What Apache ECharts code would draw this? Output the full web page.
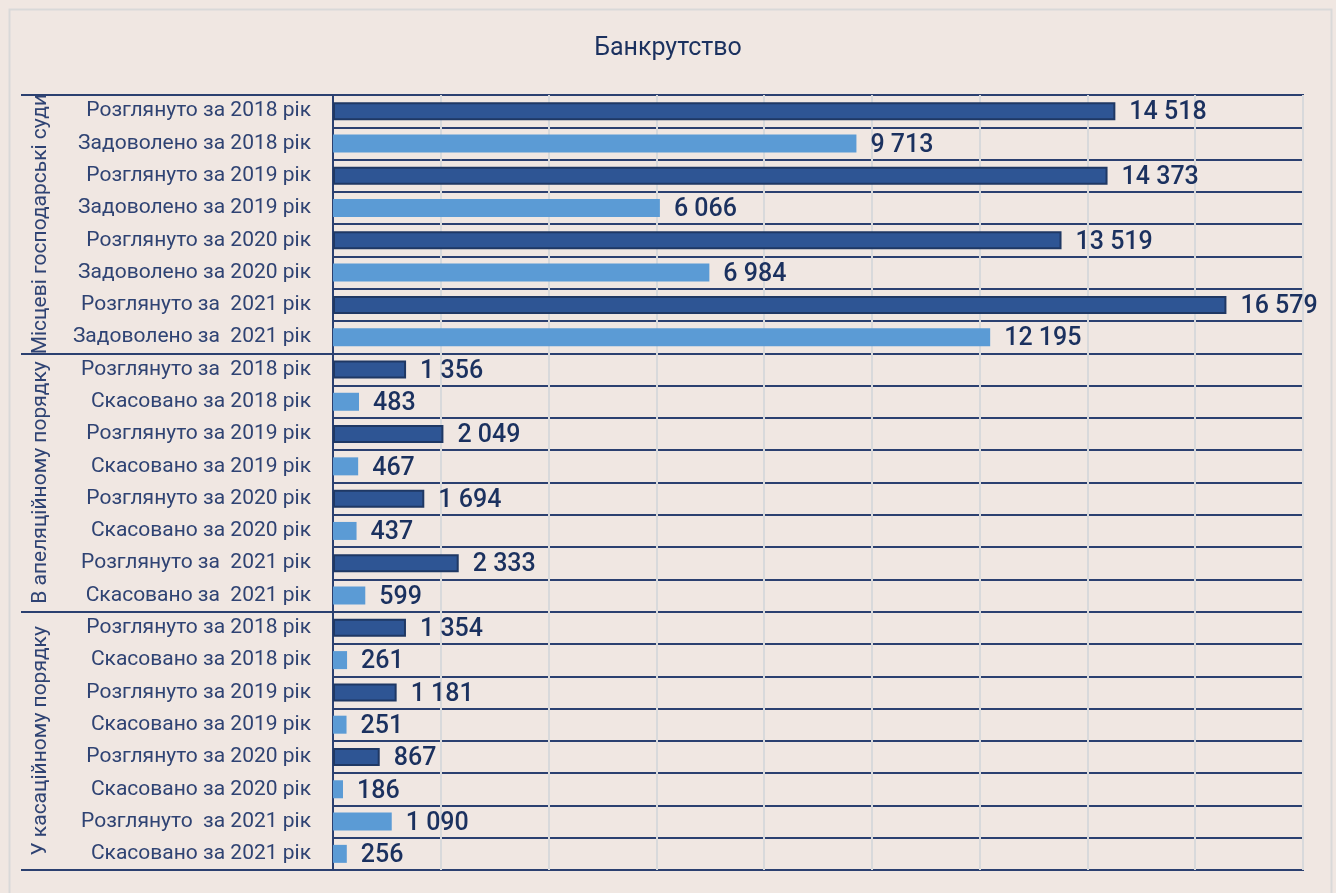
<!DOCTYPE html>
<html>
<head>
<meta charset="utf-8">
<script src="https://cdn.jsdelivr.net/npm/echarts@6/dist/echarts.min.js"></script>
<style>
html,body{margin:0;padding:0;background:#fff;}
#c{width:1336px;height:893px;}
</style>
</head>
<body>
<div id="c"></div>
<script>
const titleText = 'Банкрутство';
const groups = ['Місцеві господарські суди', 'В апеляційному порядку', 'У касаційному порядку'];
const categories = [
  'Розглянуто за 2018 рік', 'Задоволено за 2018 рік',
  'Розглянуто за 2019 рік', 'Задоволено за 2019 рік',
  'Розглянуто за 2020 рік', 'Задоволено за 2020 рік',
  'Розглянуто за  2021 рік', 'Задоволено за  2021 рік',
  'Розглянуто за  2018 рік', 'Скасовано за 2018 рік',
  'Розглянуто за 2019 рік', 'Скасовано за 2019 рік',
  'Розглянуто за 2020 рік', 'Скасовано за 2020 рік',
  'Розглянуто за  2021 рік', 'Скасовано за  2021 рік',
  'Розглянуто за 2018 рік', 'Скасовано за 2018 рік',
  'Розглянуто за 2019 рік', 'Скасовано за 2019 рік',
  'Розглянуто за 2020 рік', 'Скасовано за 2020 рік',
  'Розглянуто  за 2021 рік', 'Скасовано за 2021 рік'
];
// dark (outlined) bars
const darkValues = [
  14518, '-', 14373, '-', 13519, '-', 16579, '-',
  1356, '-', 2049, '-', 1694, '-', 2333, '-',
  1354, '-', 1181, '-', 867, '-', '-', '-'
];
// light bars
const lightValues = [
  '-', 9713, '-', 6066, '-', 6984, '-', 12195,
  '-', 483, '-', 467, '-', 437, '-', 599,
  '-', 261, '-', 251, '-', 186, 1090, 256
];
const xMin = 0, xMax = 18000, xInterval = 2000;

const FONT = '"Roboto", sans-serif';
const NAVY = '#1b315f';
const fmt = v => String(v).replace(/\B(?=(\d{3})+(?!\d))/g, ' ');

const chart = echarts.init(document.getElementById('c'));
const labelCfg = {
  show: true, position: 'right', distance: 14,
  fontFamily: FONT, fontSize: 25, fontWeight: 500, color: NAVY,
  offset: [0, 2],
  formatter: p => fmt(p.value)
};
chart.setOption({
  backgroundColor: '#f0e7e2',
  animation: false,
  title: {
    text: titleText, left: 'center', top: 31,
    textStyle: { fontFamily: FONT, fontSize: 25, fontWeight: 'normal', color: NAVY }
  },
  grid: {
    left: 333, right: 33, top: 95, bottom: 23,
    show: true, borderColor: '#2b4070', borderWidth: 2, backgroundColor: 'transparent'
  },
  xAxis: {
    type: 'value', min: xMin, max: xMax, interval: xInterval,
    axisLabel: { show: false }, axisLine: { show: false }, axisTick: { show: false },
    splitLine: { show: true, lineStyle: { color: '#d8d9db', width: 2 } }
  },
  yAxis: [
    {
      type: 'category', inverse: true, data: categories,
      axisLine: { show: true, lineStyle: { color: '#2b4070', width: 2 } },
      axisTick: { show: false },
      axisLabel: { fontFamily: FONT, fontSize: 21, color: '#2f4373', margin: 22, interval: 0 },
      splitLine: { show: true, interval: 0, lineStyle: { color: '#2b4070', width: 2 } }
    },
    {
      type: 'category', inverse: true, data: groups, position: 'left', offset: 0,
      axisLine: { show: false },
      axisTick: { show: true, length: 312, interval: 0, lineStyle: { color: '#2b4070', width: 2 } },
      axisLabel: { fontFamily: FONT, fontSize: 21, color: '#2f4373', rotate: 90, margin: 292, interval: 0, align: 'center', verticalAlign: 'middle' }
    }
  ],
  series: [
    {
      type: 'bar', yAxisIndex: 0, data: darkValues, barWidth: 18, barGap: '-100%',
      itemStyle: { color: '#2e5594', borderColor: '#1f3864', borderWidth: 2 },
      label: labelCfg
    },
    {
      type: 'bar', yAxisIndex: 0, data: lightValues, barWidth: 18, barGap: '-100%',
      itemStyle: { color: '#5b9bd5' },
      label: labelCfg
    }
  ],
  graphic: [
    { type: 'rect', left: 7, top: 7, shape: { width: 1322, height: 900 }, style: { fill: 'none', stroke: '#d9d9d9', lineWidth: 2 }, silent: true, z: -1 }
  ]
});
</script>
</body>
</html>
